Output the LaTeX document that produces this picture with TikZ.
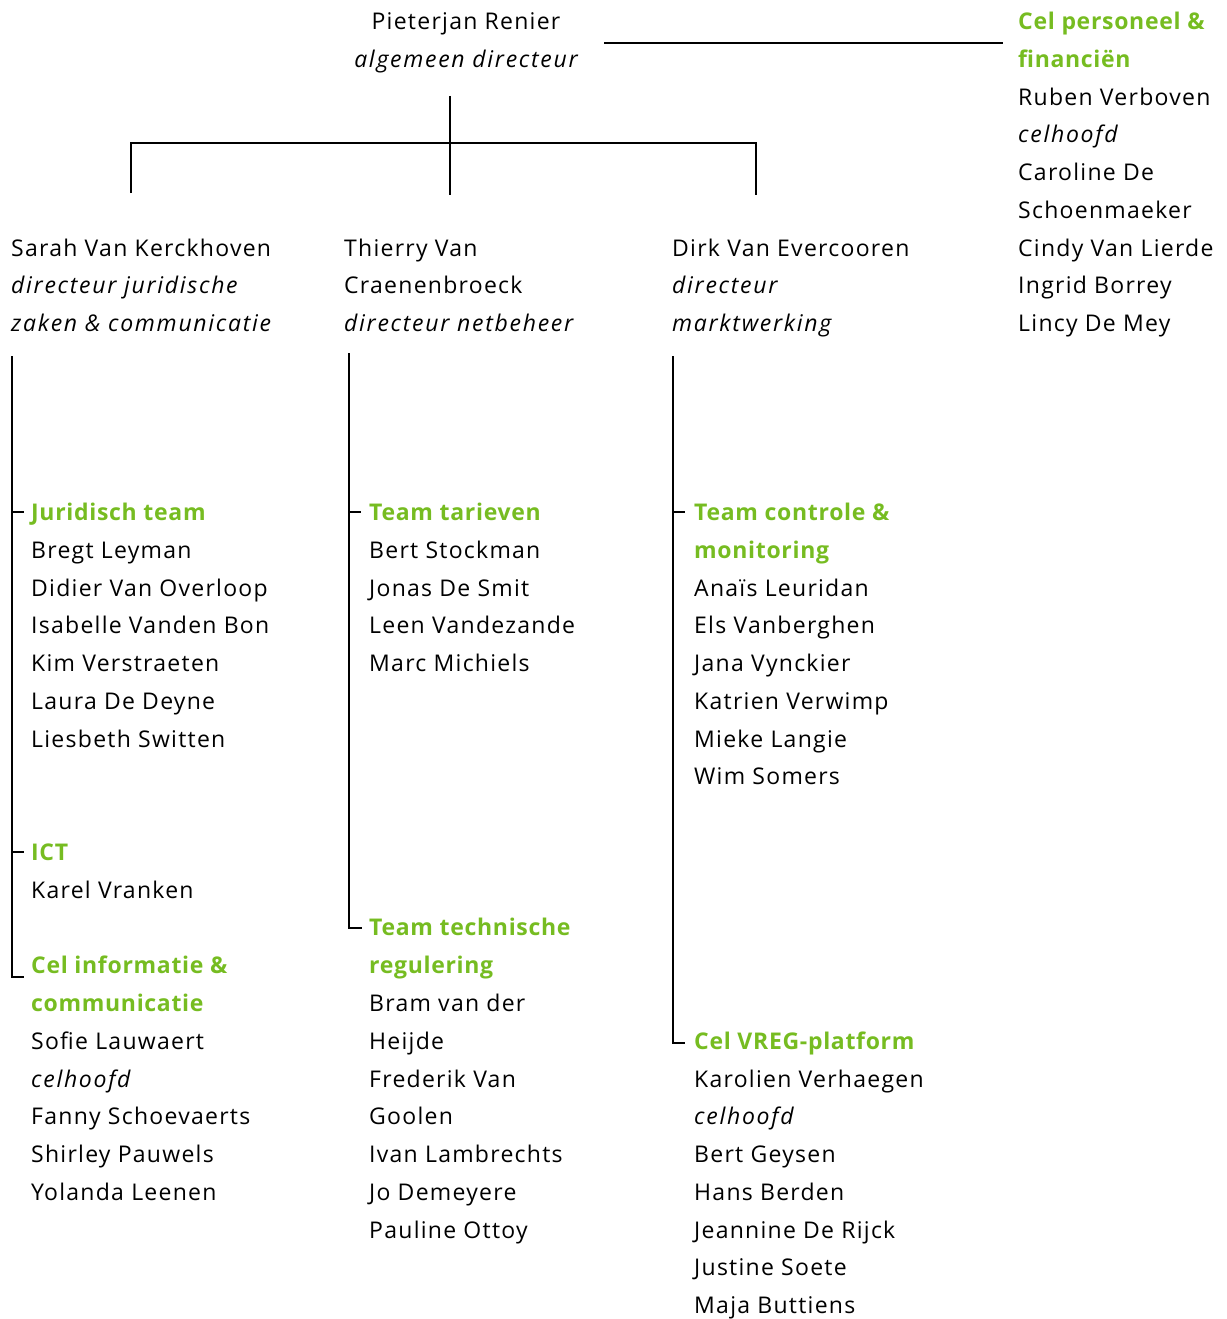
\documentclass[tikz,border=0pt]{standalone}
\usepackage{fontspec}
\setmainfont{Open Sans}[LetterSpace=5.5,ItalicFeatures={LetterSpace=7.5},BoldFeatures={LetterSpace=3}]
\definecolor{vgreen}{RGB}{118,188,33}
\begin{document}
\begin{tikzpicture}[x=1pt,y=-1pt,
  txt/.style={anchor=base west,inner sep=0pt,font=\fontsize{23}{26}\selectfont},
  itx/.style={txt,font=\fontsize{23}{26}\selectfont\itshape},
  grn/.style={txt,font=\fontsize{23}{26}\selectfont\bfseries,text=vgreen},
  conn/.style={line width=2.6pt,black}]
\useasboundingbox (0,0) rectangle (1226,1319);
\newcommand\rw[5]{\node[#4] (#1) at (#2,{29.5+37.77*#3}) {#5};}
% top
\rw{pra}{466}{0}{txt,anchor=base}{Pieterjan Renier}
\rw{prb}{466}{1}{itx,anchor=base}{algemeen directeur}
% far right
\rw{cpa}{1018}{0}{grn}{Cel personeel \&}
\rw{cpb}{1018}{1}{grn}{financiën}
\rw{cpc}{1018}{2}{txt}{Ruben Verboven}
\rw{cpd}{1018}{3}{itx}{celhoofd}
\rw{cpe}{1018}{4}{txt}{Caroline De}
\rw{cpf}{1018}{5}{txt}{Schoenmaeker}
\rw{cpg}{1018}{6}{txt}{Cindy Van Lierde}
\rw{cph}{1018}{7}{txt}{Ingrid Borrey}
\rw{cpi}{1018}{8}{txt}{Lincy De Mey}
% left column
\rw{sva}{11}{6}{txt}{Sarah Van Kerckhoven}
\rw{svb}{11}{7}{itx}{directeur juridische}
\rw{svc}{11}{8}{itx}{zaken \& communicatie}
\rw{jua}{31}{13}{grn}{Juridisch team}
\rw{jub}{31}{14}{txt}{Bregt Leyman}
\rw{juc}{31}{15}{txt}{Didier Van Overloop}
\rw{jud}{31}{16}{txt}{Isabelle Vanden Bon}
\rw{jue}{31}{17}{txt}{Kim Verstraeten}
\rw{juf}{31}{18}{txt}{Laura De Deyne}
\rw{jug}{31}{19}{txt}{Liesbeth Switten}
\rw{icta}{31}{22}{grn}{ICT}
\rw{ictb}{31}{23}{txt}{Karel Vranken}
\rw{cia}{31}{25}{grn}{Cel informatie \&}
\rw{cib}{31}{26}{grn}{communicatie}
\rw{cic}{31}{27}{txt}{Sofie Lauwaert}
\rw{cid}{31}{28}{itx}{celhoofd}
\rw{cie}{31}{29}{txt}{Fanny Schoevaerts}
\rw{cif}{31}{30}{txt}{Shirley Pauwels}
\rw{cig}{31}{31}{txt}{Yolanda Leenen}
% middle column
\rw{tva}{344}{6}{txt}{Thierry Van}
\rw{tvb}{344}{7}{txt}{Craenenbroeck}
\rw{tvc}{344}{8}{itx}{directeur netbeheer}
\rw{tta}{369}{13}{grn}{Team tarieven}
\rw{ttb}{369}{14}{txt}{Bert Stockman}
\rw{ttc}{369}{15}{txt}{Jonas De Smit}
\rw{ttd}{369}{16}{txt}{Leen Vandezande}
\rw{tte}{369}{17}{txt}{Marc Michiels}
\rw{tra}{369}{24}{grn}{Team technische}
\rw{trb}{369}{25}{grn}{regulering}
\rw{trc}{369}{26}{txt}{Bram van der}
\rw{trd}{369}{27}{txt}{Heijde}
\rw{tre}{369}{28}{txt}{Frederik Van}
\rw{trf}{369}{29}{txt}{Goolen}
\rw{trg}{369}{30}{txt}{Ivan Lambrechts}
\rw{trh}{369}{31}{txt}{Jo Demeyere}
\rw{tri}{369}{32}{txt}{Pauline Ottoy}
% right column
\rw{dva}{672}{6}{txt}{Dirk Van Evercooren}
\rw{dvb}{672}{7}{itx}{directeur}
\rw{dvc}{672}{8}{itx}{marktwerking}
\rw{tca}{694}{13}{grn}{Team controle \&}
\rw{tcb}{694}{14}{grn}{monitoring}
\rw{tcc}{694}{15}{txt}{Anaïs Leuridan}
\rw{tcd}{694}{16}{txt}{Els Vanberghen}
\rw{tce}{694}{17}{txt}{Jana Vynckier}
\rw{tcf}{694}{18}{txt}{Katrien Verwimp}
\rw{tcg}{694}{19}{txt}{Mieke Langie}
\rw{tch}{694}{20}{txt}{Wim Somers}
\rw{vra}{694}{27}{grn}{Cel VREG-platform}
\rw{vrb}{694}{28}{txt}{Karolien Verhaegen}
\rw{vrc}{694}{29}{itx}{celhoofd}
\rw{vrd}{694}{30}{txt}{Bert Geysen}
\rw{vre}{694}{31}{txt}{Hans Berden}
\rw{vrf}{694}{32}{txt}{Jeannine De Rijck}
\rw{vrg}{694}{33}{txt}{Justine Soete}
\rw{vrh}{694}{34}{txt}{Maja Buttiens}
% connector points
\coordinate (stA) at (604,43);
\coordinate (stB) at (1003,43);
\coordinate (trA) at (450,96);
\coordinate (trB) at (450,195);
\coordinate (brL) at (131,193);
\coordinate (brLt) at (131,143);
\coordinate (brRt) at (756,143);
\coordinate (brR) at (756,195);
\coordinate (lvT) at (12,356);
\coordinate (lvB) at (12,977);
\coordinate (mvT) at (349,353);
\coordinate (mvB) at (349,928);
\coordinate (rvT) at (673,356);
\coordinate (rvB) at (673,1043);
\draw[conn] (stA) -- (stB);
\draw[conn] (trA) -- (trB);
\draw[conn] (brL) -- (brLt) -- (brRt) -- (brR);
\draw[conn] (lvT) -- (lvB) -- ++(12,0);
\draw[conn] (lvT |- 0,512) -- ++(12,0);
\draw[conn] (lvT |- 0,852) -- ++(12,0);
\draw[conn] (mvT) -- (mvB) -- ++(13,0);
\draw[conn] (mvT |- 0,512) -- ++(12,0);
\draw[conn] (rvT) -- (rvB) -- ++(12,0);
\draw[conn] (rvT |- 0,512) -- ++(12,0);
\end{tikzpicture}
\end{document}
